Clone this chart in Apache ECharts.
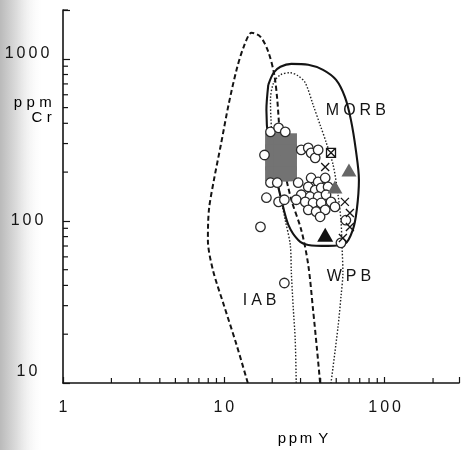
<!DOCTYPE html>
<html><head><meta charset="utf-8">
<script src="https://cdn.jsdelivr.net/npm/echarts@6.0.0/dist/echarts.min.js"></script>
<style>html,body{margin:0;padding:0;background:#fff}#c{width:462px;height:450px}</style>
</head><body><div id="c"></div>
<script>
// ---- tick labels ----
const xTickLabels = [1, 10, 100];
const yTickLabels = [10, 100, 1000];
const xMinorTicks = [2,3,4,5,6,7,8,9,20,30,40,50,60,70,80,90,200];
const yMinorTicks = [20,30,40,50,60,70,80,90,200,300,400,500,600,700,800,900,2000];

// ---- field boundaries [Y ppm, Cr ppm] ----
const iabField = [[14.1,10],[12.0,17.2],[10.0,30.3],[8.55,49.9],[7.96,76.3],[8.08,117],[8.68,179],[9.58,294],[10.7,520],[12.0,855],[13.3,1186],[14.9,1447],[16.9,1367],[18.9,1105],[20.6,797],[21.5,558],[22.2,365],[23.5,222],[26.3,135],[30.3,88],[33.5,53.5],[35.9,28.2],[38.0,16.0],[39.7,10]];
const morbField = [[18.9,691],[20.4,820],[22.5,893],[26.3,931],[33.5,918],[41.4,855],[49.9,741],[56.6,582],[61.7,420],[66.2,274],[69.2,179],[67.1,117],[63.4,88],[56.6,72.1],[44.5,70.1],[33.5,71.1],[29.0,76.3],[25.2,94.5],[22.8,135],[20.6,206],[18.9,316],[18.4,484],[18.9,691]];
const wpbField = [[28.2,10],[27.8,18.4],[27.0,29.4],[26.3,47.8],[25.9,71.1],[24.1,101],[22.2,151],[20.6,238],[19.8,365],[19.5,558],[20.4,711],[22.5,797],[25.9,820],[29.0,785],[32.1,711],[35.9,520],[39.7,391],[43.2,307],[47.8,222],[51.3,145],[53.5,101],[54.3,71.1],[55.0,47.8],[53.5,34.0],[51.3,22.2],[46.4,10]];

// ---- samples [Y ppm, Cr ppm] ----
const graySquares = [[20.1,312],[22.8,312],[25.6,312],[20.1,267],[22.8,267],[25.6,267],[20.1,228],[22.8,228],[25.6,228],[20.1,195],[22.8,195],[25.6,195]];
const openCircles = [[17.9,255],[18.4,139],[19.5,354],[21.9,375],[24.1,354],[19.5,172],[21.5,172],[21.9,131],[23.8,135],
  [30.3,274],[33.5,282],[34.9,263],[37.0,245],[38.6,274],
  [34.9,184],[38.6,174],[42.7,184],[33.5,162],[37.0,155],[40.3,160],[44.5,162],[30.3,145],[34.4,141],[38.6,141],[43.2,145],[28.2,135],[32.1,131],[35.9,129],[40.3,129],[46.4,131],[33.5,117],[37.5,114],[42.7,117],[49.1,122],[39.7,106],[29.0,172],
  [57.4,101],[53.5,73.2],[16.9,91.8],[23.8,41.4]];
const grayTriangles = [[60.0,206],[49.1,162]];
const blackTriangles = [[42.7,82]];
const crosses = [[56.6,131],[60.8,112],[60.8,91.8],[55.0,78.5],[42.7,215]];
const crossedSquares = [[46.4,263]];
const fieldLabels = [{name:'MORB', value:[66.2,478]},{name:'IAB', value:[16.7,32.1]},{name:'WPB', value:[60.0,45.1]}];

const INK = '#141414';
const FONT = 'Liberation Sans';
function spaced(s, st){ return s.split('').map(c => c === ' ' ? ' ' : '{' + st + '|' + c + '}').join(''); }
function isTick(v, arr){ return arr.some(t => Math.abs(Math.log10(v) - Math.log10(t)) < 1e-6); }

function tickSeries(data, dir){
  return {type:'custom', silent:true, z:4, clip:false, data:data,
    renderItem:(params, api) => {
      const p = api.coord([api.value(0), api.value(1)]);
      const shape = dir === 'y' ? {x1:p[0], y1:p[1], x2:p[0]+5, y2:p[1]} : {x1:p[0], y1:p[1], x2:p[0], y2:p[1]-5};
      return {type:'line', shape:shape, style:{stroke:INK, lineWidth:1.2}};
    }};
}

const chart = echarts.init(document.getElementById('c'), null, {renderer:'canvas'});
const labelRich = (pb) => ({fontFamily:FONT, fontSize:16, color:INK, padding:[0,1.5,pb,1.5]});
chart.setOption({
  backgroundColor:'transparent',
  animation:false,
  grid:{left:63, right:0, top:10, bottom:67},
  xAxis:{type:'log', logBase:10, min:1, max:290,
    axisLine:{onZero:false, lineStyle:{color:INK, width:1.6}},
    axisTick:{inside:true, length:6, lineStyle:{color:INK, width:1.2}},
    splitLine:{show:false},
    axisLabel:{margin:17, color:INK, formatter:v => isTick(v, xTickLabels) ? spaced(String(Math.round(v)), 'a') : '',
      rich:{a:labelRich(0)}}
  },
  yAxis:{type:'log', logBase:10, min:10, max:2000,
    axisLine:{onZero:false, lineStyle:{color:INK, width:1.6}},
    axisTick:{inside:true, length:7, lineStyle:{color:INK, width:1.2}},
    splitLine:{show:false},
    axisLabel:{margin:36, align:'center', color:INK, formatter:v => {
        if (!isTick(v, yTickLabels)) return '';
        const r = Math.round(v);
        return spaced(String(r), r === 10 ? 'c' : (r === 1000 ? 'b' : 'a'));
      },
      rich:{a:labelRich(0), b:labelRich(10), c:labelRich(22)}}
  },
  graphic:[
    {type:'rect', z:-10, silent:true, x:0, y:0, shape:{x:0, y:0, width:44, height:450},
      style:{fill:new echarts.graphic.LinearGradient(0,0,1,0,[{offset:0,color:'#bababa'},{offset:0.4,color:'#dedede'},{offset:1,color:'rgba(255,255,255,0)'}])}},
    {type:'text', x:54, y:95, silent:true,
      style:{text:spaced('ppm','p') + '\n' + spaced('Cr','p'), align:'right', verticalAlign:'top', lineHeight:15,
        rich:{p:{fontFamily:FONT, fontSize:15, color:INK, padding:[0,2.2,0,2.2], lineHeight:15}}}},
    {type:'text', x:303, y:439, silent:true,
      style:{text:spaced('ppm Y','p'), align:'center', verticalAlign:'middle',
        rich:{p:{fontFamily:FONT, fontSize:15, color:INK, padding:[0,1.3,0,1.3]}}}}
  ],
  series:[
    tickSeries(yMinorTicks.map(v => [1, v]), 'y'),
    tickSeries(xMinorTicks.map(v => [v, 10]), 'x'),
    {type:'line', data:iabField, showSymbol:false, smooth:0.3, silent:true, z:2,
      lineStyle:{color:INK, width:2, type:[5,3]}},
    {type:'line', data:wpbField, showSymbol:false, smooth:0.3, silent:true, z:2,
      lineStyle:{color:'#222', width:1.4, type:[1.5,1.8]}},
    {type:'line', data:morbField, showSymbol:false, smooth:0.3, silent:true, z:2,
      lineStyle:{color:INK, width:2.1}},
    {type:'scatter', data:graySquares, symbol:'rect', symbolSize:15, silent:true, z:3,
      itemStyle:{color:'#737373', opacity:1}},
    {type:'scatter', data:openCircles, symbol:'circle', symbolSize:9.5, silent:true, z:4,
      itemStyle:{color:'#fff', borderColor:'#2a2a2a', borderWidth:1.3, opacity:1}},
    {type:'scatter', data:grayTriangles, symbol:'triangle', symbolSize:[15,13], silent:true, z:5,
      itemStyle:{color:'#666', opacity:1}},
    {type:'scatter', data:blackTriangles, symbol:'triangle', symbolSize:[16,14], silent:true, z:5,
      itemStyle:{color:'#111', opacity:1}},
    {type:'scatter', data:crosses, symbol:'path://M0,0L10,10M10,0L0,10', symbolSize:8, silent:true, z:5,
      itemStyle:{color:'transparent', borderColor:INK, borderWidth:1.3, opacity:1}},
    {type:'scatter', data:crossedSquares, symbol:'path://M0,0H10V10H0ZM0,0L10,10M10,0L0,10', symbolSize:9, silent:true, z:5,
      itemStyle:{color:'#fff', borderColor:INK, borderWidth:1.3, opacity:1}},
    {type:'scatter', data:fieldLabels, symbolSize:1, silent:true, z:6,
      itemStyle:{color:'transparent'},
      label:{show:true, position:'inside', color:INK, textBorderWidth:0, opacity:1, formatter:p => spaced(p.name, 'f'),
        rich:{f:{fontFamily:FONT, fontSize:16, color:INK, textBorderWidth:0, padding:[0,2,0,2]}}}}
  ]
});
</script></body></html>
